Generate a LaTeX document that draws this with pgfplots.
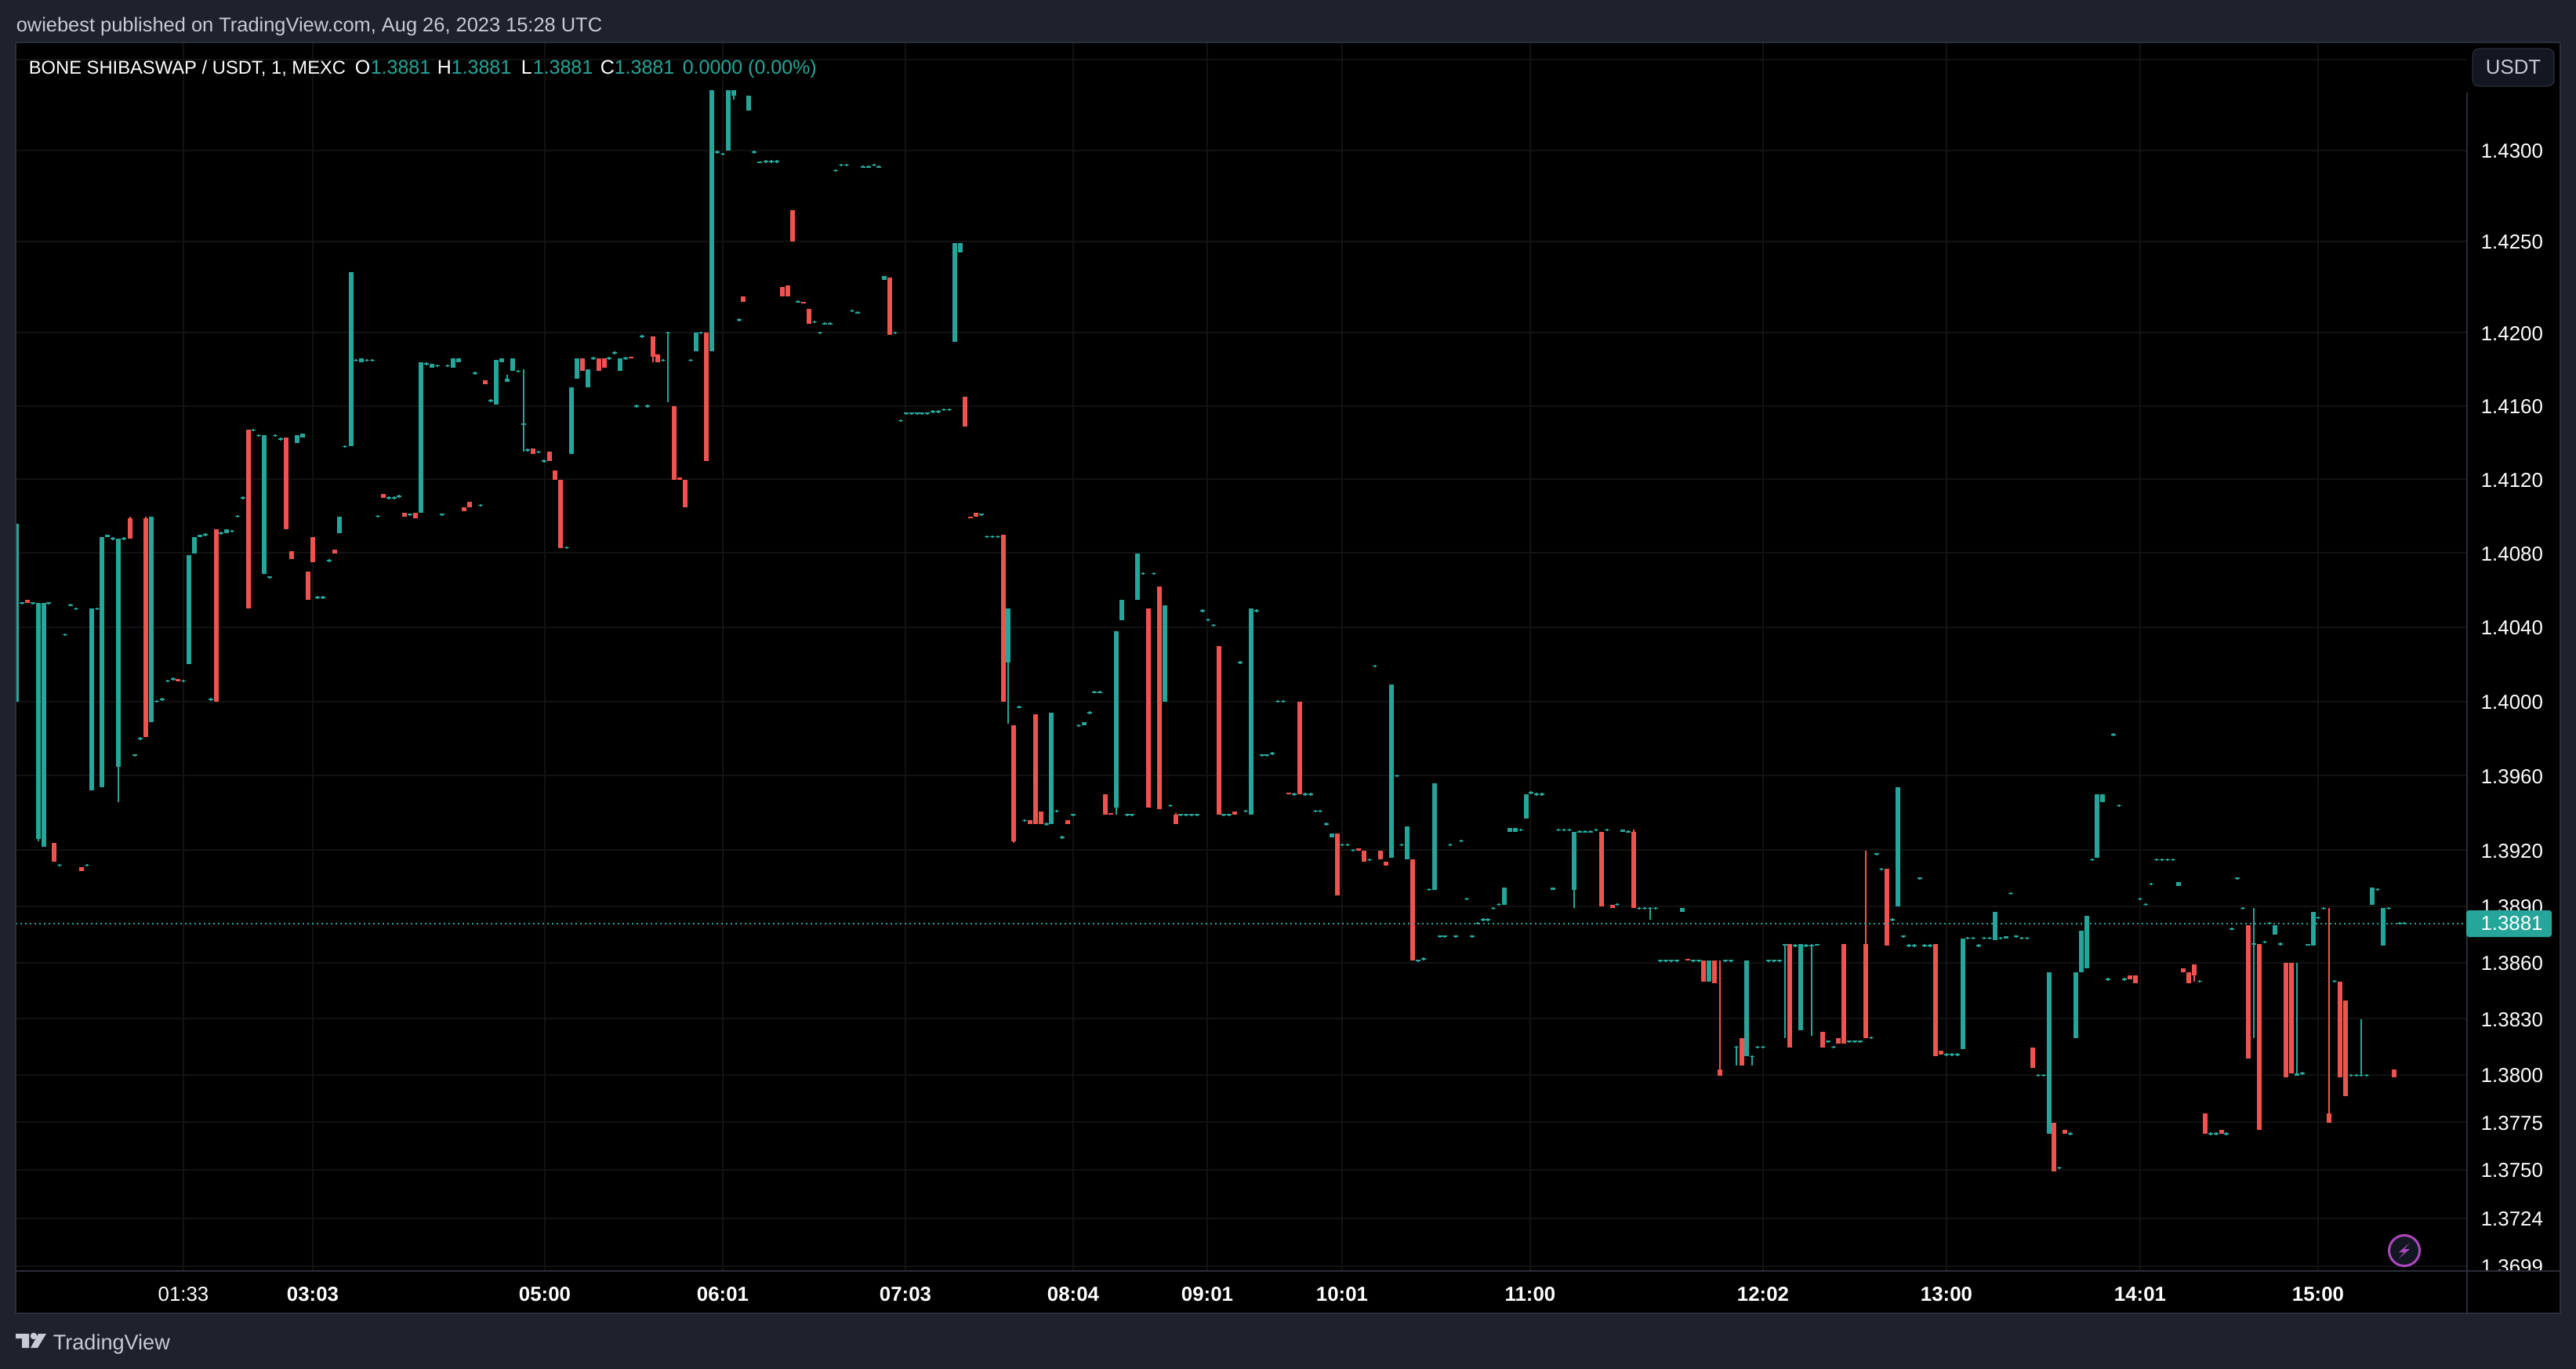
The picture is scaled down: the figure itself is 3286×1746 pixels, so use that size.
\documentclass[border=0pt]{standalone}
\usepackage{fontspec}
\setmainfont{Liberation Sans}
\usepackage{pgfplots}
\pgfplotsset{compat=1.18}
\definecolor{tvbg}{HTML}{1E222D}
\definecolor{tvborder}{HTML}{2A2E39}
\definecolor{tvgrid}{HTML}{121212}
\definecolor{tvteal}{HTML}{26A69A}
\definecolor{tvred}{HTML}{EF5350}
\definecolor{tvtext}{HTML}{C8CAD6}
\definecolor{tvbtn}{HTML}{131722}
\definecolor{tvpurple}{HTML}{AB47BC}
\pgfdeclareplotmark{doji}{%
  \pgfpathmoveto{\pgfqpoint{-0.72pt}{0pt}}\pgfpathlineto{\pgfqpoint{0.72pt}{0pt}}%
  \pgfpathmoveto{\pgfqpoint{0pt}{-0.42pt}}\pgfpathlineto{\pgfqpoint{0pt}{0.42pt}}%
  \pgfusepathqstroke}
\newcommand{\px}{\fontsize{6.2}{7}\selectfont}
\def\nanword{nan}
\begin{document}
\begin{tikzpicture}
\begin{scope}[x=0.24pt,y=-0.24pt]
\path[use as bounding box,fill=tvbg] (0,0) rectangle (3286,1746);
\fill[black] (20,54) rectangle (3266,1675);
\end{scope}
\begin{axis}[
  at={(4.8pt,-389.04pt)},anchor=south west,
  scale only axis,width=750.48pt,height=375.84pt,
  % the price scale is logarithmic: second-order expansion of ln(p) about 1.4
  y coord trafo/.code={\def\tmpy{#1}\ifx\tmpy\nanword\def\pgfmathresult{nan}\else\pgfmathparse{((#1-1.4)*1000)/1.4-((#1-1.4)*1000)*((#1-1.4)*1000)/3920}\fi},
  xmin=20,xmax=3147,ymin=1.36965,ymax=1.43592,
  axis line style={draw=none},major tick length=0pt,
  xtick={234,399,695,922,1155,1369,1540,1712,1952,2249,2483,2730,2957},
  xticklabels={01:33,{\bfseries 03:03},{\bfseries 05:00},{\bfseries 06:01},{\bfseries 07:03},{\bfseries 08:04},{\bfseries 09:01},{\bfseries 10:01},{\bfseries 11:00},{\bfseries 12:02},{\bfseries 13:00},{\bfseries 14:01},{\bfseries 15:00}},
  ytick={1.3699,1.3724,1.3750,1.3775,1.3800,1.3830,1.3860,1.3890,1.3920,1.3960,1.4000,1.4040,1.4080,1.4120,1.4160,1.4200,1.4250,1.4300,1.4350},
  yticklabels={1.3699,1.3724,1.3750,1.3775,1.3800,1.3830,1.3860,1.3890,1.3920,1.3960,1.4000,1.4040,1.4080,1.4120,1.4160,1.4200,1.4250,1.4300,{}},
  yticklabel pos=right,
  ticklabel style={font=\px,text=white,inner sep=0pt},
  yticklabel style={anchor=west,xshift=4.1pt,yshift=-0.2pt},
  xticklabel style={anchor=north,yshift=-4.7pt},
  grid=major,major grid style={draw=tvgrid,line width=0.48pt},
  unbounded coords=jump,clip=true,
]
% teal wicks
\addplot[tvteal,line width=0.48pt,line cap=butt,no markers] coordinates {
(49,1.3925)(49,1.3926)(49,nan)
(151,1.3946)(151,1.3965)(151,nan)
(647,1.4175)(647,1.4177)(647,nan)
(668,1.4135)(668,1.4180)(668,nan)
(852,1.4162)(852,1.4200)(852,nan)
(936,1.4328)(936,1.4330)(936,nan)
(1286,1.3988)(1286,1.4021)(1286,nan)
(1424,1.3939)(1424,1.3943)(1424,nan)
(2008,1.3889)(2008,1.3899)(2008,nan)
(2105,1.3883)(2105,1.3889)(2105,nan)
(2215,1.3805)(2215,1.3815)(2215,nan)
(2235,1.3805)(2235,1.3810)(2235,nan)
(2277,1.3820)(2277,1.3869)(2277,nan)
(2311,1.3821)(2311,1.3869)(2311,nan)
(2875,1.3820)(2875,1.3889)(2875,nan)
(2930,1.3801)(2930,1.3860)(2930,nan)
(3012,1.3800)(3012,1.3830)
};
% red wicks
\addplot[tvred,line width=0.48pt,line cap=butt,no markers] coordinates {
(166,1.4099)(166,1.4100)(166,nan)
(186,1.4099)(186,1.4100)(186,nan)
(833,1.4184)(833,1.4187)(833,nan)
(1293,1.3924)(1293,1.3925)(1293,nan)
(1500,1.3939)(1500,1.3940)(1500,nan)
(2084,1.3930)(2084,1.3931)(2084,nan)
(2194,1.3803)(2194,1.3861)(2194,nan)
(2380,1.3870)(2380,1.3920)(2380,nan)
(2799,1.3850)(2799,1.3853)(2799,nan)
(2971,1.3780)(2971,1.3889)
};
% teal bodies
\addplot[tvteal,line width=1.44pt,line cap=butt,no markers] coordinates {
(21,1.4000)(21,1.4096)(21,nan)
(49,1.3926)(49,1.4053)(49,nan)
(56,1.3922)(56,1.4053)(56,nan)
(117,1.3952)(117,1.4050)(117,nan)
(130,1.3954)(130,1.4089)(130,nan)
(137,1.4089)(137,1.4090)(137,nan)
(151,1.3965)(151,1.4088)(151,nan)
(193,1.3989)(193,1.4100)(193,nan)
(241,1.4020)(241,1.4079)(241,nan)
(248,1.4080)(248,1.4089)(248,nan)
(255,1.4089)(255,1.4090)(255,nan)
(289,1.4091)(289,1.4093)(289,nan)
(337,1.4069)(337,1.4144)(337,nan)
(379,1.4140)(379,1.4144)(379,nan)
(386,1.4143)(386,1.4145)(386,nan)
(433,1.4091)(433,1.4100)(433,nan)
(448,1.4138)(448,1.4233)(448,nan)
(461,1.4184)(461,1.4186)(461,nan)
(537,1.4102)(537,1.4184)(537,nan)
(551,1.4181)(551,1.4183)(551,nan)
(578,1.4181)(578,1.4186)(578,nan)
(585,1.4184)(585,1.4186)(585,nan)
(633,1.4161)(633,1.4185)(633,nan)
(640,1.4184)(640,1.4186)(640,nan)
(647,1.4173)(647,1.4175)(647,nan)
(654,1.4179)(654,1.4186)(654,nan)
(729,1.4134)(729,1.4170)(729,nan)
(736,1.4175)(736,1.4186)(736,nan)
(750,1.4170)(750,1.4180)(750,nan)
(791,1.4179)(791,1.4186)(791,nan)
(888,1.4190)(888,1.4200)(888,nan)
(908,1.4190)(908,1.4333)(908,nan)
(929,1.4300)(929,1.4333)(929,nan)
(936,1.4330)(936,1.4333)(936,nan)
(955,1.4322)(955,1.4330)(955,nan)
(969,1.4293)(969,1.4294)(969,nan)
(1128,1.4229)(1128,1.4231)(1128,nan)
(1218,1.4195)(1218,1.4249)(1218,nan)
(1225,1.4244)(1225,1.4249)(1225,nan)
(1286,1.4021)(1286,1.4050)(1286,nan)
(1341,1.3934)(1341,1.3994)(1341,nan)
(1383,1.3987)(1383,1.3989)(1383,nan)
(1424,1.3943)(1424,1.4038)(1424,nan)
(1431,1.4044)(1431,1.4055)(1431,nan)
(1451,1.4055)(1451,1.4080)(1451,nan)
(1486,1.4000)(1486,1.4052)(1486,nan)
(1596,1.3939)(1596,1.4050)(1596,nan)
(1699,1.3927)(1699,1.3929)(1699,nan)
(1775,1.3916)(1775,1.4009)(1775,nan)
(1795,1.3915)(1795,1.3933)(1795,nan)
(1830,1.3899)(1830,1.3956)(1830,nan)
(1919,1.3891)(1919,1.3900)(1919,nan)
(1926,1.3930)(1926,1.3932)(1926,nan)
(1933,1.3930)(1933,1.3932)(1933,nan)
(1947,1.3937)(1947,1.3950)(1947,nan)
(1981,1.3899)(1981,1.3900)(1981,nan)
(2008,1.3899)(2008,1.3930)(2008,nan)
(2070,1.3930)(2070,1.3931)(2070,nan)
(2146,1.3887)(2146,1.3889)(2146,nan)
(2180,1.3850)(2180,1.3861)(2180,nan)
(2228,1.3810)(2228,1.3861)(2228,nan)
(2277,1.3869)(2277,1.3870)(2277,nan)
(2297,1.3824)(2297,1.3870)(2297,nan)
(2318,1.3869)(2318,1.3870)(2318,nan)
(2421,1.3890)(2421,1.3954)(2421,nan)
(2504,1.3814)(2504,1.3873)(2504,nan)
(2545,1.3872)(2545,1.3887)(2545,nan)
(2559,1.3873)(2559,1.3874)(2559,nan)
(2614,1.3769)(2614,1.3855)(2614,nan)
(2648,1.3820)(2648,1.3855)(2648,nan)
(2655,1.3855)(2655,1.3877)(2655,nan)
(2662,1.3857)(2662,1.3885)(2662,nan)
(2675,1.3916)(2675,1.3950)(2675,nan)
(2682,1.3946)(2682,1.3950)(2682,nan)
(2779,1.3901)(2779,1.3903)(2779,nan)
(2902,1.3875)(2902,1.3880)(2902,nan)
(2930,1.3800)(2930,1.3801)(2930,nan)
(2944,1.3869)(2944,1.3870)(2944,nan)
(2951,1.3869)(2951,1.3887)(2951,nan)
(3026,1.3891)(3026,1.3900)(3026,nan)
(3040,1.3869)(3040,1.3889)
};
% red bodies
\addplot[tvred,line width=1.44pt,line cap=butt,no markers] coordinates {
(35,1.4053)(35,1.4055)(35,nan)
(69,1.3914)(69,1.3924)(69,nan)
(104,1.3909)(104,1.3911)(104,nan)
(166,1.4088)(166,1.4099)(166,nan)
(186,1.3981)(186,1.4099)(186,nan)
(227,1.4011)(227,1.4012)(227,nan)
(276,1.4000)(276,1.4093)(276,nan)
(317,1.4050)(317,1.4147)(317,nan)
(365,1.4093)(365,1.4143)(365,nan)
(372,1.4077)(372,1.4081)(372,nan)
(393,1.4055)(393,1.4070)(393,nan)
(399,1.4075)(399,1.4089)(399,nan)
(427,1.4080)(427,1.4082)(427,nan)
(489,1.4110)(489,1.4112)(489,nan)
(516,1.4100)(516,1.4102)(516,nan)
(530,1.4099)(530,1.4102)(530,nan)
(592,1.4103)(592,1.4105)(592,nan)
(599,1.4105)(599,1.4108)(599,nan)
(619,1.4172)(619,1.4174)(619,nan)
(680,1.4134)(680,1.4137)(680,nan)
(701,1.4130)(701,1.4135)(701,nan)
(708,1.4120)(708,1.4125)(708,nan)
(715,1.4083)(715,1.4120)(715,nan)
(743,1.4179)(743,1.4186)(743,nan)
(764,1.4179)(764,1.4186)(764,nan)
(771,1.4181)(771,1.4186)(771,nan)
(805,1.4186)(805,1.4187)(805,nan)
(833,1.4187)(833,1.4198)(833,nan)
(839,1.4184)(839,1.4188)(839,nan)
(860,1.4120)(860,1.4160)(860,nan)
(867,1.4120)(867,1.4121)(867,nan)
(874,1.4105)(874,1.4120)(874,nan)
(901,1.4130)(901,1.4200)(901,nan)
(948,1.4217)(948,1.4220)(948,nan)
(998,1.4220)(998,1.4225)(998,nan)
(1005,1.4220)(1005,1.4226)(1005,nan)
(1011,1.4250)(1011,1.4267)(1011,nan)
(1025,1.4216)(1025,1.4217)(1025,nan)
(1032,1.4205)(1032,1.4213)(1032,nan)
(1135,1.4199)(1135,1.4230)(1135,nan)
(1231,1.4149)(1231,1.4165)(1231,nan)
(1238,1.4099)(1238,1.4100)(1238,nan)
(1245,1.4100)(1245,1.4102)(1245,nan)
(1280,1.4000)(1280,1.4090)(1280,nan)
(1293,1.3925)(1293,1.3987)(1293,nan)
(1314,1.3934)(1314,1.3936)(1314,nan)
(1321,1.3934)(1321,1.3993)(1321,nan)
(1328,1.3934)(1328,1.3941)(1328,nan)
(1362,1.3934)(1362,1.3936)(1362,nan)
(1410,1.3939)(1410,1.3950)(1410,nan)
(1417,1.3939)(1417,1.3940)(1417,nan)
(1465,1.3943)(1465,1.4050)(1465,nan)
(1479,1.3942)(1479,1.4062)(1479,nan)
(1500,1.3934)(1500,1.3939)(1500,nan)
(1555,1.3939)(1555,1.4030)(1555,nan)
(1575,1.3939)(1575,1.3941)(1575,nan)
(1644,1.3950)(1644,1.3951)(1644,nan)
(1658,1.3950)(1658,1.4000)(1658,nan)
(1706,1.3896)(1706,1.3929)(1706,nan)
(1733,1.3920)(1733,1.3921)(1733,nan)
(1740,1.3914)(1740,1.3920)(1740,nan)
(1761,1.3915)(1761,1.3920)(1761,nan)
(1768,1.3912)(1768,1.3914)(1768,nan)
(1802,1.3861)(1802,1.3915)(1802,nan)
(2043,1.3890)(2043,1.3930)(2043,nan)
(2057,1.3889)(2057,1.3891)(2057,nan)
(2084,1.3889)(2084,1.3930)(2084,nan)
(2153,1.3861)(2153,1.3862)(2153,nan)
(2173,1.3850)(2173,1.3861)(2173,nan)
(2187,1.3849)(2187,1.3861)(2187,nan)
(2194,1.3800)(2194,1.3803)(2194,nan)
(2222,1.3805)(2222,1.3820)(2222,nan)
(2283,1.3815)(2283,1.3870)(2283,nan)
(2325,1.3815)(2325,1.3823)(2325,nan)
(2345,1.3817)(2345,1.3820)(2345,nan)
(2352,1.3817)(2352,1.3870)(2352,nan)
(2380,1.3820)(2380,1.3870)(2380,nan)
(2407,1.3869)(2407,1.3910)(2407,nan)
(2469,1.3810)(2469,1.3870)(2469,nan)
(2476,1.3811)(2476,1.3813)(2476,nan)
(2593,1.3804)(2593,1.3815)(2593,nan)
(2620,1.3749)(2620,1.3775)(2620,nan)
(2634,1.3769)(2634,1.3771)(2634,nan)
(2717,1.3851)(2717,1.3853)(2717,nan)
(2724,1.3849)(2724,1.3853)(2724,nan)
(2785,1.3855)(2785,1.3857)(2785,nan)
(2792,1.3849)(2792,1.3855)(2792,nan)
(2799,1.3853)(2799,1.3859)(2799,nan)
(2813,1.3769)(2813,1.3780)(2813,nan)
(2834,1.3769)(2834,1.3771)(2834,nan)
(2868,1.3809)(2868,1.3880)(2868,nan)
(2882,1.3771)(2882,1.3870)(2882,nan)
(2916,1.3799)(2916,1.3860)(2916,nan)
(2923,1.3801)(2923,1.3860)(2923,nan)
(2971,1.3775)(2971,1.3780)(2971,nan)
(2985,1.3799)(2985,1.3850)(2985,nan)
(2992,1.3789)(2992,1.3840)(2992,nan)
(3054,1.3799)(3054,1.3803)
};
% flat bars (open = close)
\addplot[only marks,tvteal,line width=0.4pt,mark=doji] coordinates {
(28,1.4053)(42,1.4053)(62,1.4053)(76,1.3912)(83,1.4036)(90,1.4052)(97,1.4050)(111,1.3912)
(124,1.4050)(144,1.4088)(158,1.4088)(172,1.3971)(179,1.3980)(200,1.4000)(207,1.4001)(214,1.4011)
(221,1.4012)(234,1.4011)(262,1.4090)(269,1.4001)(282,1.4091)(296,1.4092)(303,1.4100)(310,1.4110)
(323,1.4147)(330,1.4144)(344,1.4067)(351,1.4144)(358,1.4142)(405,1.4056)(412,1.4056)(420,1.4076)
(440,1.4138)(454,1.4185)(468,1.4185)(475,1.4185)(482,1.4100)(496,1.4110)(503,1.4110)(509,1.4111)
(523,1.4101)(544,1.4183)(558,1.4182)(564,1.4101)(571,1.4182)(606,1.4178)(613,1.4106)(626,1.4163)
(661,1.4179)(668,1.4150)(673,1.4136)(687,1.4135)(694,1.4130)(723,1.4083)(757,1.4186)(777,1.4186)
(784,1.4189)(798,1.4186)(812,1.4160)(819,1.4198)(826,1.4160)(846,1.4185)(852,1.4200)(881,1.4185)
(894,1.4200)(915,1.4299)(922,1.4298)(943,1.4207)(962,1.4299)(977,1.4294)(984,1.4294)(991,1.4294)
(1018,1.4217)(1039,1.4206)(1046,1.4200)(1052,1.4205)(1059,1.4205)(1066,1.4289)(1073,1.4292)(1080,1.4292)
(1087,1.4212)(1094,1.4211)(1101,1.4291)(1108,1.4291)(1115,1.4292)(1121,1.4291)(1142,1.4200)(1149,1.4152)
(1156,1.4156)(1163,1.4156)(1170,1.4156)(1176,1.4156)(1183,1.4156)(1190,1.4157)(1197,1.4157)(1204,1.4158)
(1211,1.4158)(1252,1.4101)(1259,1.4089)(1266,1.4089)(1273,1.4089)(1300,1.3997)(1307,1.3936)(1335,1.3934)
(1348,1.3941)(1355,1.3927)(1369,1.3939)(1376,1.3987)(1390,1.3994)(1396,1.4005)(1403,1.4005)(1438,1.3939)
(1444,1.3939)(1458,1.4069)(1472,1.4069)(1493,1.3944)(1506,1.3939)(1513,1.3939)(1520,1.3939)(1527,1.3939)
(1534,1.4049)(1541,1.4044)(1548,1.4041)(1561,1.3939)(1568,1.3939)(1582,1.4021)(1589,1.3941)(1603,1.4049)
(1610,1.3971)(1616,1.3971)(1623,1.3972)(1630,1.4000)(1637,1.4000)(1651,1.3950)(1665,1.3950)(1672,1.3950)
(1678,1.3941)(1684,1.3941)(1692,1.3934)(1712,1.3923)(1719,1.3923)(1726,1.3920)(1747,1.3915)(1754,1.4019)
(1782,1.3960)(1788,1.3923)(1809,1.3861)(1816,1.3862)(1823,1.3899)(1837,1.3874)(1843,1.3874)(1850,1.3923)
(1857,1.3874)(1864,1.3925)(1871,1.3894)(1878,1.3874)(1885,1.3881)(1892,1.3883)(1898,1.3883)(1905,1.3889)
(1912,1.3891)(1940,1.3931)(1953,1.3951)(1960,1.3950)(1967,1.3950)(1988,1.3931)(1995,1.3931)(2002,1.3931)
(2015,1.3930)(2022,1.3930)(2029,1.3930)(2036,1.3931)(2050,1.3931)(2063,1.3891)(2077,1.3930)(2091,1.3889)
(2098,1.3889)(2105,1.3889)(2112,1.3889)(2118,1.3861)(2125,1.3861)(2132,1.3861)(2139,1.3861)(2160,1.3861)
(2167,1.3861)(2201,1.3861)(2208,1.3861)(2215,1.3815)(2235,1.3810)(2242,1.3815)(2249,1.3815)(2256,1.3861)
(2263,1.3861)(2270,1.3861)(2290,1.3869)(2304,1.3869)(2311,1.3869)(2332,1.3818)(2339,1.3815)(2359,1.3818)
(2366,1.3818)(2373,1.3818)(2387,1.3820)(2394,1.3918)(2400,1.3910)(2414,1.3883)(2428,1.3874)(2435,1.3869)
(2442,1.3869)(2449,1.3905)(2455,1.3869)(2462,1.3869)(2483,1.3811)(2490,1.3811)(2497,1.3811)(2510,1.3873)
(2517,1.3873)(2524,1.3869)(2531,1.3873)(2538,1.3873)(2552,1.3873)(2565,1.3897)(2572,1.3874)(2579,1.3873)
(2586,1.3873)(2600,1.3800)(2607,1.3800)(2627,1.3751)(2641,1.3769)(2669,1.3915)(2689,1.3851)(2696,1.3982)
(2703,1.3944)(2710,1.3851)(2730,1.3894)(2737,1.3891)(2744,1.3902)(2751,1.3915)(2758,1.3915)(2765,1.3915)
(2772,1.3915)(2806,1.3850)(2820,1.3769)(2827,1.3769)(2840,1.3769)(2847,1.3878)(2854,1.3905)(2861,1.3889)
(2875,1.3870)(2889,1.3871)(2895,1.3881)(2909,1.3870)(2937,1.3801)(2957,1.3884)(2964,1.3889)(2978,1.3850)
(2999,1.3800)(3006,1.3800)(3012,1.3800)(3019,1.3800)(3033,1.3899)(3047,1.3889)(3061,1.3881)(3067,1.3881)
};
% last price line
\addplot[tvteal,line width=0.48pt,dash pattern=on 0.5pt off 0.94pt,no markers] coordinates {(20,1.3881)(3147,1.3881)};
\end{axis}
\begin{scope}[x=0.24pt,y=-0.24pt]
% frame
\fill[black] (3148,1621) rectangle (3265,1674);
\draw[tvborder,line width=0.48pt] (20,54) rectangle (3266,1675);
\draw[tvborder,line width=0.48pt] (20,1621) -- (3266,1621);
\draw[tvborder,line width=0.48pt] (3147,118) -- (3147,1675);
% last price tag
\fill[tvteal,rounded corners=0.8pt] (3146,1161) rectangle (3255,1195);
\node[anchor=center,inner sep=0pt,text=white,font=\px] at (3204,1178) {1.3881};
% currency button
\draw[tvborder,fill=tvbtn,line width=0.3pt,rounded corners=2pt] (3154,62) rectangle (3258,110);
\node[anchor=center,inner sep=0pt,text=tvtext,font=\px] at (3206,86) {USDT};
% bolt icon
\draw[tvpurple,fill=tvbtn,line width=0.72pt] (3067,1595) circle (19.5);
\fill[tvpurple] (3074,1585)--(3060,1597)--(3067,1597)--(3060,1605)--(3074,1593)--(3067,1593)--cycle;
% header and legend
\node[anchor=base west,inner sep=0pt,text=tvtext,font=\fontsize{6.1}{7}\selectfont] at (20,41) {owiebest published on TradingView.com, Aug 26, 2023 15:28 UTC};
\node[anchor=base west,inner sep=0pt,text=white,font=\fontsize{5.7}{7}\selectfont] at (36,95) {BONE SHIBASWAP / USDT, 1, MEXC};
\node[anchor=base west,inner sep=0pt,text=white,font=\fontsize{6}{7}\selectfont] at (452,95) {O};
\node[anchor=base west,inner sep=0pt,text=tvteal,font=\fontsize{6}{7}\selectfont] at (472,95) {1.3881};
\node[anchor=base west,inner sep=0pt,text=white,font=\fontsize{6}{7}\selectfont] at (557,95) {H};
\node[anchor=base west,inner sep=0pt,text=tvteal,font=\fontsize{6}{7}\selectfont] at (575,95) {1.3881};
\node[anchor=base west,inner sep=0pt,text=white,font=\fontsize{6}{7}\selectfont] at (664,95) {L};
\node[anchor=base west,inner sep=0pt,text=tvteal,font=\fontsize{6}{7}\selectfont] at (679,95) {1.3881};
\node[anchor=base west,inner sep=0pt,text=white,font=\fontsize{6}{7}\selectfont] at (765,95) {C};
\node[anchor=base west,inner sep=0pt,text=tvteal,font=\fontsize{6}{7}\selectfont] at (783,95) {1.3881};
\node[anchor=base west,inner sep=0pt,text=tvteal,font=\fontsize{6}{7}\selectfont] at (870,95) {0.0000 (0.00\%)};
% footer logo
\fill[tvtext] (20,1701)--(37,1701)--(37,1719)--(28,1719)--(28,1707)--(20,1707)--cycle;
\fill[tvtext] (43,1704) circle (4.3);
\fill[tvtext] (49,1701)--(59,1701)--(48,1719)--(39,1719)--cycle;
\node[anchor=base west,inner sep=0pt,text=tvtext,font=\fontsize{6.5}{8}\selectfont] at (67,1721) {TradingView};
\end{scope}
\end{tikzpicture}
\end{document}
